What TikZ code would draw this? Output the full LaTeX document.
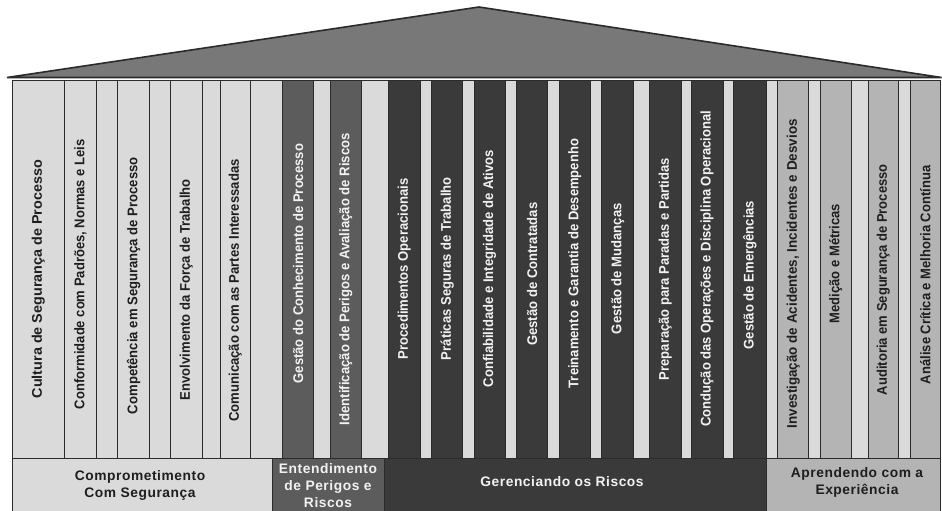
\documentclass[tikz,border=0pt]{standalone}
\usepackage{graphicx}
\usepackage{fontspec}
\setmainfont{Liberation Sans}
\newfontfamily\basefont[LetterSpace=4]{Liberation Sans}

\definecolor{pale}{HTML}{DADADA}
\definecolor{steel}{HTML}{5C5C5C}
\definecolor{coal}{HTML}{3A3A3A}
\definecolor{ash}{HTML}{B4B4B4}
\definecolor{roofgray}{HTML}{787878}
\definecolor{edge}{HTML}{2B2B2B}
\definecolor{inkdark}{HTML}{1E1E1E}
\definecolor{inklight}{HTML}{F2F2F2}

% a labelled pillar: name, left x, right x, fill, text colour, text top y, text bottom y, label
\newcommand\pillar[8]{%
  \pgfmathsetmacro\pcx{(#2+#3)/2}%
  \pgfmathsetmacro\pwd{#3-#2}%
  \pgfmathsetmacro\pcy{(#6+#7)/2}%
  \pgfmathsetmacro\plen{#7-#6}%
  \node[pillarbox, fill=#4, minimum height=\pwd pt] (#1) at (\pcx,269) {};%
  \node[pillartext, text=#5] (#1-label) at (\pcx,\pcy) {\resizebox{\plen pt}{\height}{#8}};%
}
% a narrow spacer between pillars: name, left x, right x
\newcommand\spacer[3]{%
  \pgfmathsetmacro\pcx{(#2+#3)/2}%
  \pgfmathsetmacro\pwd{#3-#2}%
  \node[pillarbox, fill=pale, minimum height=\pwd pt] (#1) at (\pcx,269) {};%
}
% a foundation block: name, left x, right x, fill
\newcommand\plinth[4]{%
  \pgfmathsetmacro\pwd{#3-#2}%
  \node[plinthbox, fill=#4, minimum width=\pwd pt] (#1) at (#2,458) {};%
}

\tikzset{
  roof/.style={fill=roofgray, draw=edge, line width=1.6pt, line join=miter},
  pillarbox/.style={draw=edge, line width=0.8pt, rotate=90, minimum width=378pt,
    inner sep=0pt, outer sep=0pt},
  pillartext/.style={rotate=90, inner sep=0pt, outer sep=0pt,
    font=\bfseries\fontsize{14}{16}\selectfont},
  plinthbox/.style={draw=edge, line width=0.8pt, anchor=north west, minimum height=70pt,
    inner sep=0pt, outer sep=0pt},
  baselabel/.style={align=center, inner sep=0pt, font=\basefont\bfseries\fontsize{13.8}{17}\selectfont}
}

\begin{document}
\begin{tikzpicture}[x=1pt, y=-1pt]
\useasboundingbox (0,0) rectangle (942,511);

% roof
\draw[roof] (7,77.5) -- (479,7) -- (941.5,77.5) -- cycle;

% commitment to safety
\pillar{p01}{12.3}{64.3}{pale}{inkdark}{160}{398.3}{Cultura de Segurança de Processo}
\pillar{p02}{64.3}{96.7}{pale}{inkdark}{139.3}{409}{Conformidade com Padrões, Normas e Leis}
\spacer{g01}{96.7}{117.7}
\pillar{p03}{117.7}{149.7}{pale}{inkdark}{157.3}{414}{Competência em Segurança de Processo}
\spacer{g02}{149.7}{170.7}
\pillar{p04}{170.7}{202}{pale}{inkdark}{179.3}{400}{Envolvimento da Força de Trabalho}
\spacer{g03}{202}{220}
\pillar{p05}{220}{250.7}{pale}{inkdark}{159.3}{421.7}{Comunicação com as Partes Interessadas}
\spacer{g04}{250.7}{282.7}

% understanding hazards and risk
\pillar{p06}{282.7}{313.3}{steel}{inklight}{144}{383.3}{Gestão do Conhecimento de Processo}
\spacer{g05}{313.3}{330}
\pillar{p07}{330}{361.7}{steel}{inklight}{133.3}{425}{Identificação de Perigos e Avaliação de Riscos}
\spacer{g06}{361.7}{388.3}

% managing risk
\pillar{p08}{388.3}{420}{coal}{inklight}{178.3}{359.3}{Procedimentos Operacionais}
\spacer{g07}{420}{431.7}
\pillar{p09}{431.7}{462.7}{coal}{inklight}{177.3}{360}{Práticas Seguras de Trabalho}
\spacer{g08}{462.7}{474}
\pillar{p10}{474}{505}{coal}{inklight}{150}{387.3}{Confiabilidade e Integridade de Ativos}
\spacer{g09}{505}{516.7}
\pillar{p11}{516.7}{547.7}{coal}{inklight}{202.7}{345.7}{Gestão de Contratadas}
\spacer{g10}{547.7}{559.3}
\pillar{p12}{559.3}{590}{coal}{inklight}{139}{388.3}{Treinamento e Garantia de Desempenho}
\spacer{g11}{590}{601.7}
\pillar{p13}{601.7}{633.7}{coal}{inklight}{203.3}{334}{Gestão de Mudanças}
\spacer{g12}{633.7}{649.3}
\pillar{p14}{649.3}{681.3}{coal}{inklight}{158.3}{380}{Preparação para Paradas e Partidas}
\spacer{g13}{681.3}{691}
\pillar{p15}{691}{723}{coal}{inklight}{110.7}{426.7}{Condução das Operações e Disciplina Operacional}
\spacer{g14}{723}{733.7}
\pillar{p16}{733.7}{766}{coal}{inklight}{200.7}{349.3}{Gestão de Emergências}
\spacer{g15}{766}{777.7}

% learning from experience
\pillar{p17}{777.7}{808.7}{ash}{inkdark}{119.3}{428.3}{Investigação de Acidentes, Incidentes e Desvios}
\spacer{g16}{808.7}{820.3}
\pillar{p18}{820.3}{851.3}{ash}{inkdark}{204}{323.3}{Medição e Métricas}
\spacer{g17}{851.3}{868}
\pillar{p19}{868}{898.7}{ash}{inkdark}{164.3}{395}{Auditoria em Segurança de Processo}
\spacer{g18}{898.7}{910.3}
\pillar{p20}{910.3}{940.3}{ash}{inkdark}{165.7}{384}{Análise Crítica e Melhoria Contínua}

% foundation
\plinth{b1}{12.3}{272.7}{pale}
\plinth{b2}{272.7}{384.3}{steel}
\plinth{b3}{384.3}{766}{coal}
\plinth{b4}{766}{940.3}{ash}

\node[baselabel, text=inkdark] (t1) at (140,485) {Comprometimento\\Com Segurança};
\node[baselabel, text=inklight] (t2) at (328,485.5) {Entendimento\\de Perigos e\\Riscos};
\node[baselabel, text=inklight] (t3) at (562,481.5) {Gerenciando os Riscos};
\node[baselabel, text=inkdark] (t4) at (857,482.5) {Aprendendo com a\\Experiência};
\end{tikzpicture}
\end{document}
